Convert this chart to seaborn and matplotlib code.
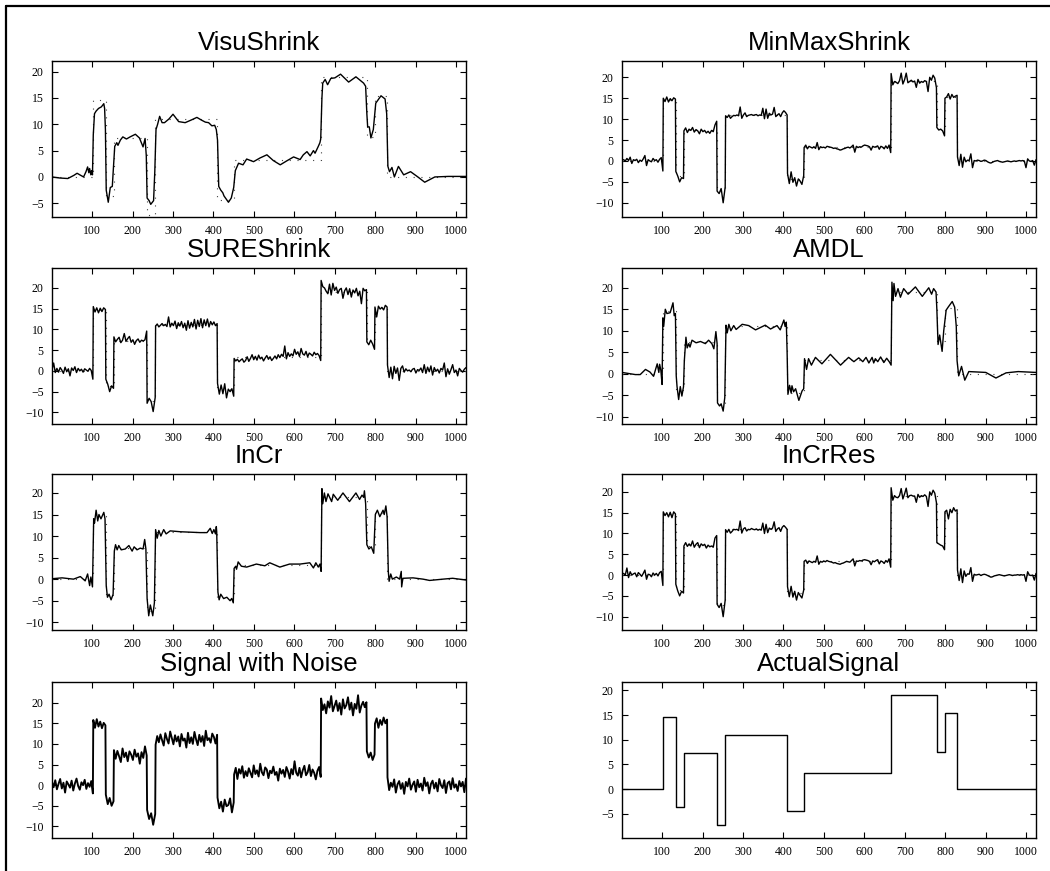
import numpy as np
import pandas as pd
import matplotlib
matplotlib.use("Agg")
import matplotlib.pyplot as plt
from matplotlib.lines import Line2D
import seaborn as sns

# ---------------------------------------------------------------------------
# Block test signal: twelve constant pieces on samples 1..1024
# ---------------------------------------------------------------------------
piece_start = [1, 103, 134, 154, 236, 257, 410, 451, 666, 779, 799, 830]
piece_end = [102, 133, 153, 235, 256, 409, 450, 665, 778, 798, 829, 1024]
block_level = [0.0, 14.6, -3.7, 7.3, -7.3, 11.0, -4.4, 3.3, 19.0, 7.6, 15.4, 0.0]

# Noisy observation, values listed piece by piece
noisy_pieces = [
    [0.8, -0.5, 1.2, -1.0, 0.3, 1.5, -0.8, 0.6, -1.8, 0.9, 0.2, -0.6, 1.1, -1.3, 0.4, 1.6,
     -0.2, -1.1, 0.7, 0.0, 1.3, -0.9, 0.5, -0.4, 1.0, -2.0],
    [15.8, 13.9, 16.0, 14.2, 15.4, 13.8, 15.1, 14.5],
    [-2.3, -4.6, -3.1, -5.0, -3.9],
    [8.5, 6.4, 8.3, 7.0, 5.6, 8.9, 6.8, 7.9, 5.8, 8.2, 7.4, 6.1, 8.6, 6.9, 7.7, 5.2, 8.0, 6.6,
     9.4, 7.2],
    [-6.0, -8.2, -6.8, -9.6, -7.0],
    [9.8, 11.9, 10.4, 12.3, 10.9, 9.6, 12.6, 11.2, 10.1, 13.0, 11.5, 9.9, 12.1, 10.6, 11.8, 9.4,
     12.4, 10.8, 11.3, 9.1, 12.7, 10.2, 11.6, 10.0, 12.9, 11.1, 9.7, 12.2, 10.5, 11.9, 9.5, 13.2,
     10.9, 11.4, 10.3, 12.5, 11.7, 10.1, 12.2],
    [-3.0, -5.6, -4.0, -6.4, -3.5, -5.1, -4.8, -3.2, -6.6, -4.2],
    [2.6, 4.2, 1.5, 3.9, 2.8, 4.6, 1.8, 3.4, 2.2, 4.1, 3.0, 1.9, 4.8, 2.7, 3.6, 2.1, 5.2, 3.1,
     2.4, 4.3, 3.8, 1.7, 3.5, 2.9, 4.5, 2.5, 3.2, 1.1, 4.0, 2.8, 3.7, 2.0, 4.4, 3.3, 1.6, 3.9,
     2.6, 5.8, 3.0, 2.3, 4.2, 1.9, 3.6, 4.7, 2.4, 3.1, 4.9, 2.2, 3.8, 3.0, 1.4, 3.5, 4.4, 2.0],
    [21.0, 18.2, 19.6, 17.4, 20.3, 18.8, 21.6, 17.9, 19.2, 20.5, 18.0, 19.9, 17.1, 20.8, 18.6,
     19.4, 21.3, 18.3, 20.0, 16.9, 19.7, 18.5, 21.8, 17.6, 19.3, 20.2, 18.9, 20.1],
    [8.2, 6.7, 7.9, 6.1, 7.4],
    [14.9, 16.2, 13.9, 15.8, 14.6, 16.4, 15.0, 15.9],
    [1.9, -1.2, 0.6, -0.4, 1.4, -1.8, 0.2, 1.0, -0.9, 0.5, -2.1, 0.8, -0.3, 1.6, -1.1, 0.1,
     0.9, -1.6, 1.3, -0.5, 0.4, -1.3, 1.8, -0.2, 0.7, -2.0, 0.3, 1.1, -0.8, 0.6, -1.5, 1.5,
     0.0, -0.7, 1.2, -1.9, 0.5, 0.9, -1.0, 1.7, -0.6, 0.2, -1.4, 1.0, -0.3, 0.8, -1.7, 1.6],
]

# SUREShrink estimate
sure_pieces = [
    [0.3, 1.9, -0.4, 0.6, -0.3, 0.8, 0.2, -0.6, 0.9, -0.2, 0.5, -1.2, 0.7, 0.1, 1.0, -0.4,
     0.6, 0.0, 0.4, -0.3, 0.5, 0.2, -0.1, 0.6, 0.1, -2.0],
    [15.5, 14.2, 15.2, 14.0, 15.1, 14.3, 15.2, 14.8],
    [-2.0, -3.2, -5.0, -3.6, -4.2],
    [8.2, 7.0, 7.6, 8.1, 6.8, 7.4, 9.0, 7.1, 7.8, 8.3, 6.9, 7.5, 6.4, 7.3, 7.7, 6.9, 7.4, 7.2,
     7.5, 9.6],
    [-7.8, -6.6, -7.4, -9.8, -6.4],
    [10.8, 11.3, 10.6, 11.0, 11.4, 10.9, 11.2, 10.7, 13.0, 10.6, 11.5, 10.9, 12.0, 10.2, 11.6,
     10.8, 11.9, 10.4, 11.5, 9.8, 12.1, 10.3, 11.7, 10.6, 12.4, 10.1, 12.2, 10.7, 12.6, 10.4,
     12.3, 10.9, 12.5, 10.6, 11.9, 11.1, 11.8, 10.9, 11.4],
    [-3.0, -5.6, -3.4, -5.5, -3.1, -6.5, -4.4, -5.0, -4.3, -6.1],
    [3.0, 2.4, 2.8, 2.2, 2.6, 2.9, 2.1, 2.5, 3.4, 2.3, 3.0, 3.9, 2.7, 3.5, 2.6, 3.8, 2.9, 3.3,
     2.4, 3.1, 3.7, 2.8, 3.4, 2.5, 3.0, 3.6, 2.9, 3.9, 3.2, 4.0, 3.5, 6.0, 2.9, 4.4, 3.5, 4.1,
     3.6, 5.2, 4.0, 4.6, 3.5, 5.4, 4.1, 3.8, 4.7, 3.4, 4.3, 4.0, 3.6, 4.5, 3.9, 4.2, 3.7, 2.5],
    [21.8, 20.3, 20.0, 19.2, 18.6, 20.9, 18.3, 21.1, 19.4, 20.2, 18.7, 19.6, 19.9, 17.5, 19.3,
     20.0, 18.4, 19.8, 17.8, 19.5, 18.8, 19.9, 18.1, 19.2, 16.2, 19.9, 19.3, 19.6],
    [7.0, 6.3, 7.4, 6.5, 5.2],
    [15.4, 13.0, 15.6, 14.9, 15.3, 14.7, 15.8, 15.4],
    [1.4, -1.6, 0.9, -1.9, 1.1, -0.6, 0.7, -2.3, 0.6, 1.2, -0.3, 0.5, 0.0, 0.2, -0.2, 0.4,
     0.6, -0.5, 0.3, 0.1, 0.7, -0.4, 1.5, -0.6, 0.9, -0.2, 1.2, -1.0, 0.8, -0.1, 0.4, -0.5,
     0.6, 0.2, 1.9, -1.4, 0.5, -0.8, 0.3, 1.5, -0.4, 0.2, -1.2, 0.6, 0.1, -0.3, 0.4, 0.8],
]

# MinMaxShrink estimate
minmax_pieces = [
    [0.2, 0.3, 0.0, 0.6, 0.1, 0.9, -0.6, 0.3, 0.1, 0.4, -0.4, 0.2, -0.1, 0.5, 1.3, -1.1, 0.3,
     0.0, -0.2, 0.6, 0.1, 0.3, -0.3, 0.4, 0.8, -2.4],
    [15.0, 14.2, 15.3, 14.1, 14.9, 14.4, 15.1, 14.8],
    [-2.5, -3.6, -5.0, -4.0, -4.2],
    [7.2, 7.9, 6.8, 7.6, 7.3, 8.0, 6.9, 7.5, 7.2, 6.5, 7.6, 7.0, 7.3, 6.7, 7.1, 6.6, 7.3, 7.0,
     8.6, 9.5],
    [-7.2, -7.8, -6.6, -10.0, -6.2],
    [10.8, 10.4, 11.0, 10.2, 10.6, 10.9, 10.8, 11.0, 10.8, 12.9, 10.2, 11.0, 11.5, 10.6, 10.9,
     11.0, 11.1, 10.9, 11.0, 11.1, 10.8, 11.0, 10.9, 12.6, 10.1, 12.4, 10.2, 11.4, 11.0, 11.2,
     12.8, 10.6, 11.0, 11.3, 10.6, 11.5, 12.0, 11.6, 11.0],
    [-3.0, -5.4, -2.6, -5.1, -4.0, -6.0, -4.3, -4.8, -5.6, -3.5],
    [3.2, 3.8, 2.9, 3.5, 3.3, 3.1, 3.4, 3.0, 4.4, 2.7, 3.4, 3.2, 3.3, 3.1, 3.5, 3.4, 3.3, 3.2,
     3.0, 3.1, 2.9, 2.8, 2.6, 2.7, 2.9, 3.0, 3.2, 3.3, 3.1, 3.4, 3.8, 2.1, 3.5, 3.2, 3.4, 3.3,
     3.6, 3.8, 3.7, 3.6, 3.4, 2.6, 3.5, 3.3, 3.4, 3.6, 2.8, 3.5, 3.3, 2.9, 3.6, 3.0, 3.8, 2.0],
    [20.9, 18.2, 19.0, 18.8, 18.5, 19.2, 21.0, 18.4, 19.4, 21.0, 18.7, 19.0, 19.3, 18.9, 19.1,
     17.6, 19.5, 18.6, 19.0, 18.8, 19.2, 19.0, 16.6, 20.0, 19.3, 20.5, 19.8, 17.5],
    [8.0, 7.4, 7.6, 7.2, 6.0],
    [15.0, 15.3, 16.1, 14.8, 15.9, 15.2, 15.5, 15.7],
    [1.0, -1.1, 1.6, -1.5, 0.9, -0.2, 0.2, 0.1, 1.7, -1.6, 0.1, 0.0, 0.2, 0.1, -0.1, 0.0, 0.2,
     0.1, -0.2, -0.4, -0.5, -0.3, -0.1, 0.0, 0.1, -0.1, -0.2, -0.3, -0.2, -0.1, 0.0, -0.1,
     -0.2, -0.1, 0.0, -0.1, 0.0, 0.1, 0.0, 0.1, 0.0, -1.6, 0.5, 0.0, -0.1, 0.1, -1.0, 0.3],
]

# InCrRes estimate
incrres_pieces = [
    [0.2, 0.4, 0.0, 1.7, -0.6, 0.8, 0.0, 0.3, 0.5, -0.4, 0.6, 0.2, -0.3, 0.4, 1.2, -1.0, 0.2,
     0.1, -0.4, 0.5, 0.0, 0.4, -0.2, 0.6, 0.9, -2.5],
    [15.2, 14.3, 15.0, 14.0, 15.1, 13.8, 15.2, 14.7],
    [-2.2, -3.8, -5.0, -3.9, -4.3],
    [7.0, 7.8, 6.9, 7.5, 7.0, 8.2, 6.7, 7.4, 7.8, 6.6, 7.5, 7.1, 7.4, 6.5, 7.2, 6.8, 7.0, 6.7,
     8.9, 9.5],
    [-7.0, -7.8, -6.8, -10.0, -6.0],
    [10.9, 10.3, 11.0, 10.1, 10.5, 11.0, 10.9, 11.0, 10.7, 13.0, 10.1, 11.1, 11.4, 10.6, 11.0,
     10.9, 11.2, 11.0, 10.9, 11.1, 10.8, 11.0, 10.8, 12.5, 10.0, 12.2, 10.2, 11.3, 11.0, 11.3,
     12.8, 10.5, 11.1, 11.4, 10.5, 11.5, 11.9, 11.5, 11.0],
    [-2.8, -5.2, -2.7, -5.3, -3.9, -6.0, -4.2, -4.9, -5.5, -3.6],
    [3.3, 3.6, 2.8, 3.4, 3.2, 3.0, 3.3, 3.1, 4.6, 2.6, 3.3, 3.1, 3.4, 3.2, 3.5, 3.3, 3.2, 3.1,
     2.9, 3.0, 2.8, 2.7, 2.6, 2.8, 2.9, 3.1, 3.3, 3.2, 3.1, 3.5, 3.9, 2.2, 3.4, 3.3, 3.5, 3.4,
     3.6, 3.7, 3.6, 3.5, 3.3, 2.5, 3.4, 3.2, 3.5, 3.7, 2.7, 3.4, 3.2, 2.8, 3.5, 3.1, 3.9, 1.9],
    [21.0, 18.0, 19.1, 18.7, 18.6, 19.1, 20.8, 18.3, 19.5, 20.9, 18.6, 19.1, 19.2, 19.0, 19.0,
     17.5, 19.4, 18.7, 19.1, 18.9, 19.3, 18.9, 16.5, 20.0, 19.2, 20.4, 19.7, 17.4],
    [7.8, 7.5, 7.2, 7.0, 6.1],
    [15.2, 15.6, 13.5, 15.8, 15.0, 16.2, 15.4, 15.7],
    [1.2, -1.3, 1.5, -1.8, 1.0, -0.3, 0.3, 0.2, 1.8, -1.5, 0.2, 0.0, 0.1, 0.2, -0.1, 0.1, 0.2,
     0.1, -0.1, -0.3, -0.5, -0.4, -0.2, -0.1, 0.0, 0.1, 0.0, -0.1, -0.2, -0.1, 0.0, 0.1, 0.0,
     -0.1, 0.0, 0.0, 0.1, 0.0, 0.1, 0.0, 0.1, -1.5, 0.8, 0.0, -0.1, 0.0, -1.2, 0.4],
]

# VisuShrink estimate (sample, value)
visu_x = [1, 20, 40, 55, 63, 72, 79, 85, 89, 92, 94, 97, 99, 101, 103, 106, 110, 116, 123, 129,
          131, 133, 135, 140, 145, 150, 153, 156, 161, 164, 170, 176, 185, 194, 207, 217, 226,
          231, 234, 236, 241, 245, 252, 255, 258, 262, 267, 273, 279, 290, 300, 314, 330, 345,
          359, 370, 380, 388, 396, 403, 407, 410, 413, 418, 423, 426, 437, 444, 450, 454, 462,
          473, 482, 499, 515, 532, 548, 565, 580, 598, 614, 622, 631, 639, 647, 651, 659, 663,
          665, 668, 670, 676, 682, 690, 700, 714, 734, 752, 771, 776, 779, 781, 785, 789, 795,
          801, 814, 824, 828, 831, 835, 841, 847, 857, 870, 887, 905, 922, 947, 980, 1024]
visu_y = [0.0, -0.2, -0.3, 0.3, 0.7, 0.3, 0.0, 1.0, 1.9, 0.8, 1.6, 0.4, 1.2, 0.4, 8.0, 12.0,
          12.5, 13.0, 13.3, 13.9, 13.0, 9.0, -2.5, -4.8, -2.0, -1.8, 2.0, 5.8, 6.5, 6.0, 7.0,
          7.6, 7.2, 7.6, 8.1, 7.4, 5.7, 7.3, 4.0, -4.0, -4.5, -5.2, -4.5, 1.0, 9.0, 10.0, 11.5,
          10.3, 10.3, 11.0, 11.9, 10.5, 10.3, 10.8, 11.3, 10.8, 10.4, 10.3, 9.7, 9.8, 9.0, 7.0,
          -1.8, -2.5, -3.0, -3.6, -4.8, -4.0, -2.0, 1.2, 2.6, 2.3, 3.4, 2.9, 3.6, 4.2, 3.1, 2.3,
          3.0, 3.8, 3.3, 4.2, 4.8, 4.0, 5.0, 4.5, 5.8, 6.5, 7.2, 15.0, 17.8, 18.5, 17.5, 18.7,
          18.8, 19.5, 18.0, 19.0, 17.8, 17.2, 12.0, 9.5, 9.5, 7.4, 9.0, 14.0, 15.4, 14.8, 12.0,
          2.0, 1.0, 1.8, 0.0, 2.0, 0.4, 1.0, 0.0, -1.0, 0.0, 0.1, 0.1]

# AMDL estimate (sample, value)
amdl_x = [1, 20, 34, 46, 59, 70, 79, 88, 92, 94, 97, 100, 102, 104, 108, 112, 120, 127, 130,
          133, 135, 137, 141, 145, 149, 153, 155, 159, 162, 166, 169, 174, 184, 195, 207, 215,
          223, 228, 233, 236, 237, 242, 246, 251, 255, 258, 261, 265, 270, 277, 283, 298, 314,
          331, 355, 368, 384, 392, 401, 404, 407, 409, 411, 415, 419, 421, 425, 430, 438, 446,
          450, 452, 457, 462, 469, 479, 495, 516, 541, 561, 574, 586, 596, 604, 611, 619, 623,
          627, 633, 640, 648, 655, 662, 666, 668, 671, 673, 677, 683, 689, 697, 708, 726, 743,
          759, 766, 771, 777, 779, 782, 786, 792, 796, 802, 807, 817, 823, 827, 829, 833, 840,
          848, 858, 880, 900, 925, 950, 980, 1024]
amdl_y = [0.3, 0.0, -0.2, -0.2, 1.0, 0.4, -0.6, 2.3, 0.3, 2.2, 0.8, -2.5, 13.0, 11.0, 15.0,
          14.0, 14.2, 16.5, 13.5, 14.0, -0.5, -3.0, -6.0, -3.0, -5.2, -3.0, 3.0, 8.5, 6.0, 7.0,
          6.2, 7.8, 7.2, 7.5, 7.0, 7.8, 7.0, 5.8, 9.8, 7.0, -6.8, -7.5, -7.0, -8.7, -5.5, 11.3,
          9.5, 11.5, 10.0, 11.2, 10.3, 11.5, 11.2, 10.2, 11.3, 10.4, 11.2, 10.2, 12.5, 11.0,
          12.0, 5.0, -4.8, -2.7, -4.5, -2.8, -4.2, -3.5, -6.2, -4.0, -3.5, 3.5, 1.0, 3.5, 2.0,
          3.8, 2.3, 4.5, 2.0, 3.8, 2.8, 3.7, 2.8, 3.8, 2.5, 3.8, 2.5, 3.5, 2.8, 3.9, 2.6, 3.6,
          2.7, 2.0, 21.3, 17.0, 21.0, 18.0, 19.8, 17.8, 19.8, 18.5, 20.2, 18.0, 20.0, 18.5,
          19.8, 19.0, 15.0, 6.8, 9.0, 5.2, 10.0, 14.8, 15.5, 16.8, 15.5, 11.0, 3.0, -0.5, 1.7,
          -1.5, 0.5, 0.4, 0.3, -1.0, 0.2, 0.5, 0.3]

# InCr estimate (sample, value)
incr_x = [1, 26, 54, 71, 83, 89, 94, 97, 101, 104, 106, 110, 114, 117, 122, 129, 132, 135, 138,
          142, 147, 152, 155, 158, 162, 166, 172, 182, 191, 199, 204, 211, 219, 226, 230, 233,
          236, 240, 244, 250, 254, 257, 261, 265, 270, 277, 283, 293, 318, 367, 384, 392, 397,
          401, 405, 407, 408, 411, 414, 418, 425, 433, 441, 445, 449, 451, 455, 457, 461, 469,
          482, 506, 527, 539, 564, 588, 614, 638, 647, 653, 659, 663, 666, 668, 670, 674, 678,
          683, 692, 696, 707, 720, 736, 752, 761, 767, 771, 773, 776, 779, 784, 790, 796, 800,
          805, 811, 819, 822, 826, 829, 832, 834, 838, 842, 852, 860, 864, 865, 868, 893, 918,
          934, 967, 991, 1024]
incr_y = [0.1, 0.3, 0.0, 0.6, -0.4, 1.2, -1.5, 0.5, -1.8, 14.0, 13.0, 16.0, 13.5, 15.0, 14.0,
          15.5, 14.0, -1.5, -4.2, -3.5, -4.8, -3.5, 6.5, 8.0, 6.8, 7.8, 6.8, 7.0, 7.8, 6.5, 7.5,
          6.8, 7.2, 7.0, 9.2, 7.0, -4.5, -8.5, -6.0, -8.5, -5.5, 11.5, 9.5, 11.3, 10.0, 11.5,
          10.5, 11.2, 11.0, 10.8, 10.8, 11.8, 10.6, 11.5, 10.5, 12.2, 11.0, -3.0, -4.8, -3.5,
          -4.5, -4.2, -5.0, -4.5, -5.5, 2.5, 3.0, 2.3, 4.0, 3.0, 2.8, 3.5, 3.1, 3.8, 2.8, 3.5,
          3.5, 3.8, 2.6, 3.8, 2.8, 3.5, 1.8, 21.0, 17.5, 20.0, 18.0, 19.8, 18.0, 19.7, 18.3,
          20.0, 18.0, 20.0, 18.5, 19.5, 19.0, 20.5, 17.5, 8.0, 7.0, 7.5, 6.0, 15.0, 16.0, 14.5,
          16.0, 15.0, 17.0, 14.5, 1.8, -0.5, 1.2, 0.0, 0.5, 0.0, 1.8, -1.8, 0.2, 0.3, 0.0,
          -0.3, 0.0, 0.2, -0.2]


def pieces_frame(pieces):
    """Lay each piece's values evenly over that piece's sample range."""
    xs, ys = [], []
    for s, e, vals in zip(piece_start, piece_end, pieces):
        xs.append(np.linspace(s, e, len(vals)))
        ys.append(np.asarray(vals, dtype=float))
    return pd.DataFrame({"sample": np.concatenate(xs), "value": np.concatenate(ys)})


def pairs_frame(x, y):
    return pd.DataFrame({"sample": np.asarray(x, float), "value": np.asarray(y, float)})


# step outline of the block signal
step_x = [piece_start[0]] + [s - 0.5 for s in piece_start[1:]] + [piece_end[-1]]
step_y = block_level + [block_level[-1]]
block_df = pd.DataFrame({"sample": step_x, "value": step_y})

sns.set_theme(style="ticks")
plt.rcParams["font.family"] = ["Liberation Serif", "DejaVu Serif"]
plt.rcParams["axes.unicode_minus"] = True

W, H = 1050, 871
fig = plt.figure(figsize=(W / 100, H / 100), dpi=100)
fig.patch.set_facecolor("white")

col_left = [52, 622]
ax_w, ax_h = 414, 156
row_top = [61, 268, 474, 682]

panels = [
    ("VisuShrink", pairs_frame(visu_x, visu_y), (-7.6, 22.0), [-5, 0, 5, 10, 15, 20], 0, 0, True),
    ("MinMaxShrink", pieces_frame(minmax_pieces), (-13.4, 23.9), [-10, -5, 0, 5, 10, 15, 20], 0, 1, True),
    ("SUREShrink", pieces_frame(sure_pieces), (-12.8, 24.8), [-10, -5, 0, 5, 10, 15, 20], 1, 0, True),
    ("AMDL", pairs_frame(amdl_x, amdl_y), (-11.7, 24.6), [-10, -5, 0, 5, 10, 15, 20], 1, 1, True),
    ("InCr", pairs_frame(incr_x, incr_y), (-11.8, 24.4), [-10, -5, 0, 5, 10, 15, 20], 2, 0, True),
    ("InCrRes", pieces_frame(incrres_pieces), (-13.2, 24.3), [-10, -5, 0, 5, 10, 15, 20], 2, 1, True),
    ("Signal with Noise", pieces_frame(noisy_pieces), (-12.8, 25.0), [-10, -5, 0, 5, 10, 15, 20], 3, 0, False),
    ("ActualSignal", None, (-9.9, 21.7), [-5, 0, 5, 10, 15, 20], 3, 1, False),
]

xticks = [100, 200, 300, 400, 500, 600, 700, 800, 900, 1000]

for title, df, ylim, yticks, r, c, show_ref in panels:
    left = col_left[c] / W
    bottom = 1 - (row_top[r] + ax_h) / H
    ax = fig.add_axes([left, bottom, ax_w / W, ax_h / H])
    ax.set_facecolor("white")

    if show_ref:
        sns.lineplot(data=block_df, x="sample", y="value", ax=ax, color="#444444",
                     lw=0.8, linestyle=(0, (1, 6)), drawstyle="steps-post",
                     sort=False, estimator=None, zorder=1)
    if df is None:
        sns.lineplot(data=block_df, x="sample", y="value", ax=ax, color="black",
                     lw=1.0, drawstyle="steps-post", sort=False, estimator=None, zorder=2)
    else:
        lw = 1.35 if title == "Signal with Noise" else 1.0
        sns.lineplot(data=df, x="sample", y="value", ax=ax, color="black", lw=lw,
                     sort=False, estimator=None, zorder=2)

    ax.set_xlim(1, 1024)
    ax.set_ylim(*ylim)
    ax.set_xticks(xticks)
    ax.set_yticks(yticks)
    ax.set_xlabel("")
    ax.set_ylabel("")
    ax.tick_params(axis="both", which="both", direction="in", length=4, width=0.8,
                   top=True, right=True, labelsize=8.5, colors="black", pad=6)
    for sp in ax.spines.values():
        sp.set_visible(True)
        sp.set_linewidth(1.0)
        sp.set_color("black")
    ax.set_title(title, fontsize=18.5, family=["Liberation Sans", "DejaVu Sans"],
                 pad=8, color="black")

# frame lines along the top and left edges of the figure
fig.add_artist(Line2D([6 / W, 1.0], [1 - 6 / H, 1 - 6 / H], transform=fig.transFigure,
                      color="black", lw=1.6))
fig.add_artist(Line2D([6 / W, 6 / W], [0.0, 1 - 6 / H], transform=fig.transFigure,
                      color="black", lw=1.6))

fig.savefig("out.png", dpi=100, facecolor="white")
